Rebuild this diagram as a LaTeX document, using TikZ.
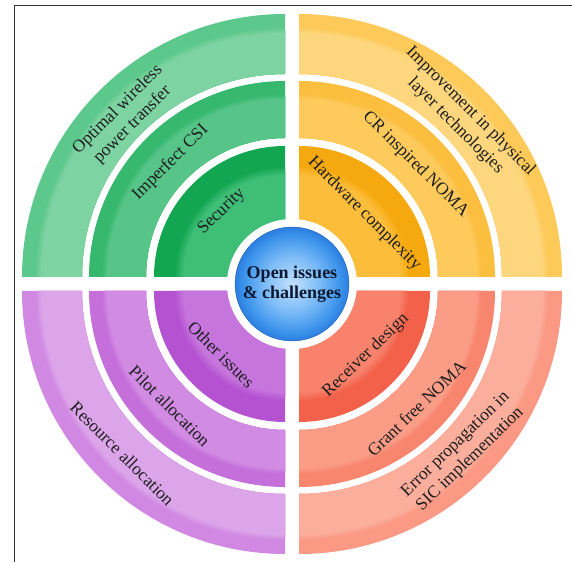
\documentclass[tikz,border=0pt]{standalone}
\usepackage{fontspec}
\setmainfont{Liberation Serif}
\usetikzlibrary{calc}
\definecolor{gAd}{HTML}{12A651}\definecolor{gAl}{HTML}{3FBE77}
\definecolor{gBd}{HTML}{36B86F}\definecolor{gBl}{HTML}{57C588}
\definecolor{gCd}{HTML}{5DC88C}\definecolor{gCl}{HTML}{7DD3A1}
\definecolor{yAd}{HTML}{F6A90E}\definecolor{yAl}{HTML}{FBBD3A}
\definecolor{yBd}{HTML}{FBBE3F}\definecolor{yBl}{HTML}{FDCA5B}
\definecolor{yCd}{HTML}{FDC958}\definecolor{yCl}{HTML}{FED67D}
\definecolor{pAd}{HTML}{B452D2}\definecolor{pAl}{HTML}{C675DD}
\definecolor{pBd}{HTML}{C56FDB}\definecolor{pBl}{HTML}{D28BE3}
\definecolor{pCd}{HTML}{D088E2}\definecolor{pCl}{HTML}{DCA5EA}
\definecolor{rAd}{HTML}{F3614A}\definecolor{rAl}{HTML}{F8826B}
\definecolor{rBd}{HTML}{F8866F}\definecolor{rBl}{HTML}{FB9C87}
\definecolor{rCd}{HTML}{FB9984}\definecolor{rCl}{HTML}{FCAE9D}
\definecolor{bluC}{HTML}{C2E1FF}\definecolor{bluM}{HTML}{7DBCF7}
\definecolor{bluN}{HTML}{3E95EC}\definecolor{bluE}{HTML}{2A7EE0}
\definecolor{frameC}{HTML}{333333}\definecolor{txtC}{HTML}{1E1E1E}
\definecolor{ctrTxt}{HTML}{0B1830}
\pgfdeclareradialshading{bluesh}{\pgfpoint{0bp}{0bp}}{color(0bp)=(bluC); color(12bp)=(bluM); color(21bp)=(bluN); color(25bp)=(bluE); color(50bp)=(bluE)}
% corner x, corner y, start angle, r1, r2, dark, light
\newcommand\qband[7]{%
  \begin{scope}[shift={(#1,#2)}]
    \fill[#6] (#3:#5) arc[start angle=#3,delta angle=90,radius=#5] -- (#3+90:#4) arc[start angle=#3+90,delta angle=-90,radius=#4] -- cycle;
    \foreach \f/\p in {0.76/25,0.735/50,0.71/75,0.685/100}{%
      \pgfmathsetmacro\rb{#4+(#5-#4)*\f}
      \fill[#7!\p!#6] (#3:\rb) arc[start angle=#3,delta angle=90,radius=\rb] -- (#3+90:#4) arc[start angle=#3+90,delta angle=-90,radius=#4] -- cycle;
    }
  \end{scope}}
\tikzset{
  lab/.style={text=txtC, align=center, inner sep=0pt, font=\fontsize{17.5}{21}\selectfont},
  ctr/.style={circle, minimum size=114pt, inner sep=0pt, draw=bluE!80!black, line width=0.4pt, shading=bluesh, align=center, text=ctrTxt, font=\bfseries\fontsize{18}{20}\selectfont}
}
\begin{document}
\begin{tikzpicture}[x=1pt,y=1pt]
\useasboundingbox (0,0) rectangle (572,562);
\fill[white] (0,0) rectangle (572,562);
\draw[frameC, line width=1pt] (14,0) -- (14,556.5) -- (572,556.5);
% green (top-left)
\qband{285}{285}{90}{203}{263}{gCd}{gCl}
\qband{285}{285}{90}{139}{196}{gBd}{gBl}
\qband{285}{285}{90}{40}{131}{gAd}{gAl}
% yellow (top-right)
\qband{299}{285}{0}{203}{263}{yCd}{yCl}
\qband{299}{285}{0}{139}{196}{yBd}{yBl}
\qband{299}{285}{0}{40}{131}{yAd}{yAl}
% purple (bottom-left)
\qband{285}{271}{180}{203}{263}{pCd}{pCl}
\qband{285}{271}{180}{139}{196}{pBd}{pBl}
\qband{285}{271}{180}{40}{131}{pAd}{pAl}
% red (bottom-right)
\qband{299}{271}{270}{203}{263}{rCd}{rCl}
\qband{299}{271}{270}{139}{196}{rBd}{rBl}
\qband{299}{271}{270}{40}{131}{rAd}{rAl}
% centre
\fill[white] (292,278) circle[radius=65];
\node[ctr] (hub) at (292,278) {Open issues\\\& challenges};
% labels green
\node[lab, rotate=45] (g3) at ($(285,285)+(135:226)$) {Optimal wireless\\power transfer};
\node[lab, rotate=45] (g2) at ($(285,285)+(135:162)$) {Imperfect CSI};
\node[lab, rotate=44] (g1) at ($(285,285)+(134:91)$) {Security};
% labels yellow
\node[lab, rotate=-45] (y3) at ($(299,285)+(44:228)$) {Improvement in physical\\layer technologies};
\node[lab, rotate=-45] (y2) at ($(299,285)+(44:162)$) {CR inspired NOMA};
\node[lab, rotate=-45] (y1) at ($(299,285)+(44:91)$) {Hardware complexity};
% labels purple
\node[lab, rotate=-45] (p1) at ($(285,271)+(225:90)$) {Other issues};
\node[lab, rotate=-45] (p2) at ($(285,271)+(225:163)$) {Pilot allocation};
\node[lab, rotate=-45] (p3) at ($(285,271)+(225:230)$) {Resource allocation};
% labels red
\node[lab, rotate=44] (r1) at ($(299,271)+(-44:93)$) {Receiver design};
\node[lab, rotate=44] (r2) at ($(299,271)+(-45:166)$) {Grant free NOMA};
\node[lab, rotate=44] (r3) at ($(299,271)+(-44.5:230)$) {Error propagation in\\SIC implementation};
\end{tikzpicture}
\end{document}
